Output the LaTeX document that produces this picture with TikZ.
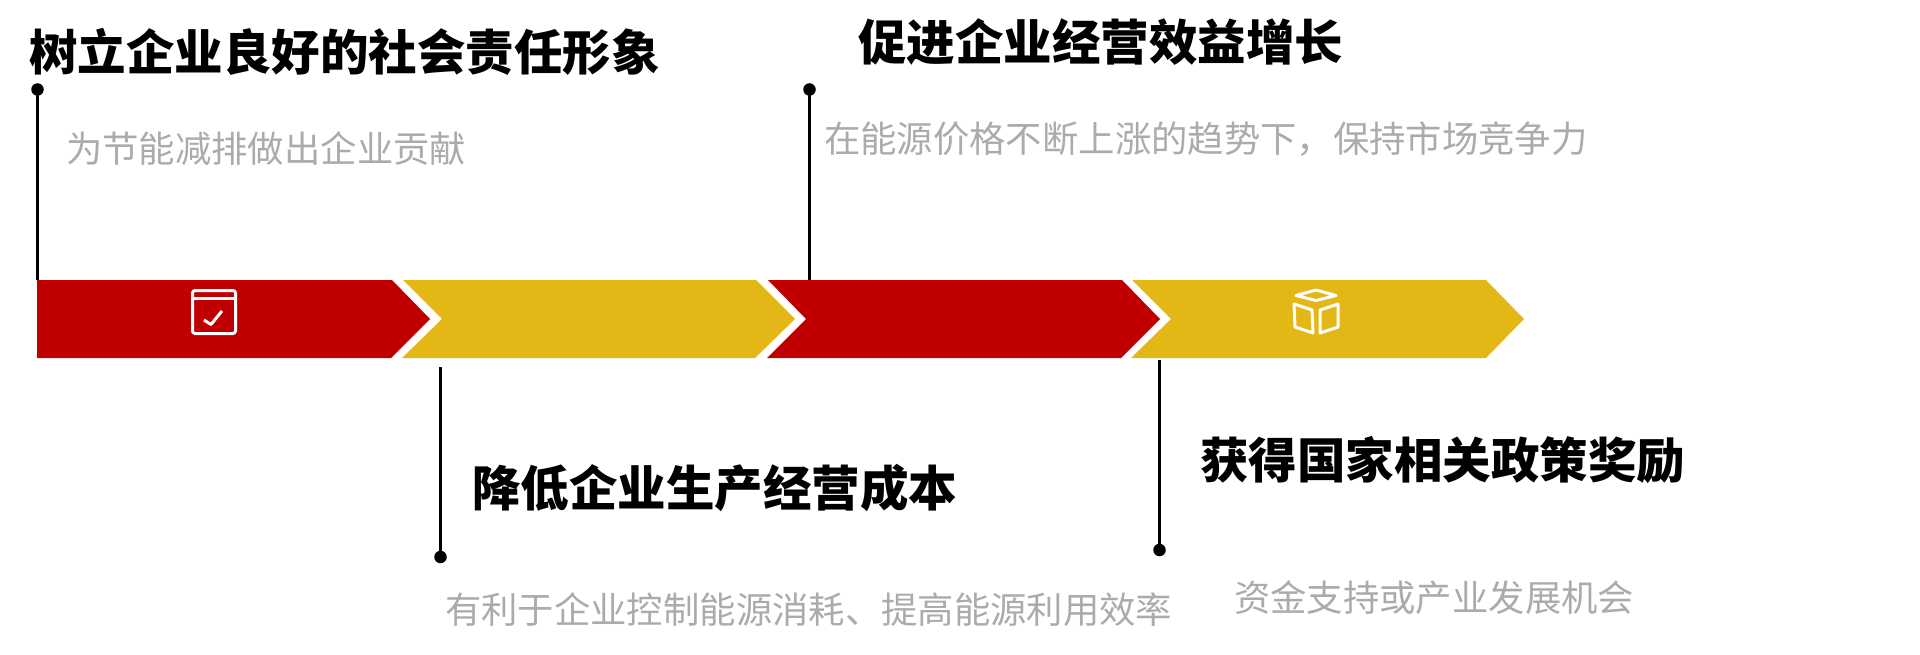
\documentclass[tikz,border=0pt]{standalone}
\usepackage{fontspec}
\setmainfont{Noto Sans CJK SC}
\definecolor{cred}{HTML}{C00000}
\definecolor{cgold}{HTML}{E2B716}
\definecolor{cgray}{HTML}{ABABAB}
\tikzset{
  head/.style={anchor=west,inner sep=0pt,font=\fontsize{48.5}{48.5}\selectfont\bfseries,text=black},
  sub/.style={anchor=west,inner sep=0pt,font=\fontsize{36.35}{36.35}\selectfont,text=cgray},
  stem/.style={line width=3.1pt,draw=black},
  dotm/.style={circle,fill=black,inner sep=0pt,minimum size=12.5pt},
  ico/.style={draw=white,line width=3pt,line join=round},
}
\begin{document}
\begin{tikzpicture}[x=1pt,y=-1pt]
\useasboundingbox (0,0) rectangle (1920,655);
\fill[cred] (37,280)--(392,280)--(430,319)--(391,358)--(37,358)--cycle;
\fill[cgold] (403,280)--(756,280)--(795,319)--(755,358)--(402,358)--(442,319)--cycle;
\fill[cred] (768,280)--(1122,280)--(1160,319)--(1121,358)--(767,358)--(806,319)--cycle;
\fill[cgold] (1132,280)--(1486,280)--(1524,319)--(1486,358)--(1131,358)--(1171,319)--cycle;
% calendar icon
\draw[ico,rounded corners=2.5pt] (192.5,290.5) rectangle (235.5,333.5);
\draw[ico] (192.5,298.5)--(235.5,298.5);
\draw[ico] (204,320)--(211,324.5)--(222,311);
% box icon
\draw[ico] (1296,295.5)--(1316,290)--(1336,295.5)--(1316,300.5)--cycle;
\draw[ico] (1294,304)--(1312,310)--(1313,333)--(1295,327)--cycle;
\draw[ico] (1320,310)--(1338,304)--(1338,327)--(1320,333)--cycle;
% stems
\node[dotm] (d1) at (37.5,89.5) {};
\coordinate (s1) at (37.5,280);
\draw[stem] (d1.center)--(s1);
\node[dotm] (d2) at (809.5,89.5) {};
\coordinate (s2) at (809.5,280);
\draw[stem] (d2.center)--(s2);
\node[dotm] (d3) at (440.5,557) {};
\coordinate (s3) at (440.5,367);
\draw[stem] (d3.center)--(s3);
\node[dotm] (d4) at (1159.5,550) {};
\coordinate (s4) at (1159.5,360);
\draw[stem] (d4.center)--(s4);
% text
\node[head] (t1) at (29,52) {树立企业良好的社会责任形象};
\node[head] (t2) at (858,42) {促进企业经营效益增长};
\node[head] (t3) at (472,488) {降低企业生产经营成本};
\node[head] (t4) at (1200,460) {获得国家相关政策奖励};
\node[sub] (b1) at (66,149) {为节能减排做出企业贡献};
\node[sub] (b2) at (824,139) {在能源价格不断上涨的趋势下，保持市场竞争力};
\node[sub] (b3) at (445,610) {有利于企业控制能源消耗、提高能源利用效率};
\node[sub] (b4) at (1234,598) {资金支持或产业发展机会};
\end{tikzpicture}
\end{document}
